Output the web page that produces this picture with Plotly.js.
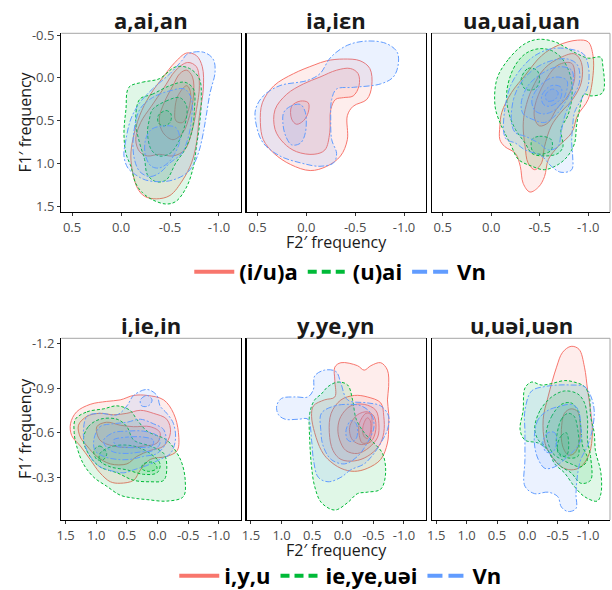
<!DOCTYPE html>
<html>
<head>
<meta charset="utf-8">
<script src="https://cdn.plot.ly/plotly-3.0.1.min.js"></script>
<style>html,body{margin:0;padding:0;background:#fff;}#chart{width:612px;height:590px;}</style>
</head>
<body>
<div id="chart"></div>
<script>
// ---------------- DATA (density contour levels, outer -> inner, [F2', F1'] pairs) ----------------
const panelTitles = ["a,ai,an", "ia,iεn", "ua,uai,uan", "i,ie,in", "y,ye,yn", "u,uəi,uən"];
const groupsTop = ["(i/u)a", "(u)ai", "Vn"];
const groupsBottom = ["i,y,u", "ie,ye,uəi", "Vn"];
const topXTicks = [0.5, 0.0, -0.5, -1.0];
const topXLabels = ["0.5", "0.0", "-0.5", "-1.0"];
const topYTicks = [-0.5, 0.0, 0.5, 1.0, 1.5];
const topYLabels = ["-0.5", "0.0", "0.5", "1.0", "1.5"];
const botXTicks = [1.5, 1.0, 0.5, 0.0, -0.5, -1.0];
const botXLabels = ["1.5", "1.0", "0.5", "0.0", "-0.5", "-1.0"];
const botYTicks = [-1.2, -0.9, -0.6, -0.3];
const botYLabels = ["-1.2", "-0.9", "-0.6", "-0.3"];

// Panel 1: a,ai,an
const p1_red = [
 [[-0.67,-0.29],[-0.77,-0.26],[-0.83,-0.13],[-0.84,0.13],[-0.80,0.44],[-0.77,0.76],[-0.72,0.99],[-0.63,1.19],[-0.50,1.37],[-0.36,1.41],[-0.24,1.38],[-0.17,1.29],[-0.12,1.11],[-0.10,0.91],[-0.12,0.72],[-0.19,0.44],[-0.29,0.21],[-0.43,-0.01],[-0.55,-0.18]],
 [[-0.68,-0.18],[-0.77,-0.13],[-0.80,0.09],[-0.77,0.37],[-0.72,0.64],[-0.65,0.84],[-0.53,0.91],[-0.39,0.89],[-0.27,0.91],[-0.19,0.86],[-0.15,0.72],[-0.20,0.52],[-0.31,0.33],[-0.43,0.13],[-0.56,-0.09]],
 [[-0.67,-0.09],[-0.73,-0.01],[-0.74,0.21],[-0.70,0.44],[-0.63,0.64],[-0.53,0.72],[-0.43,0.64],[-0.39,0.48],[-0.44,0.29],[-0.53,0.09],[-0.60,-0.05]],
 [[-0.67,0.09],[-0.71,0.17],[-0.69,0.37],[-0.63,0.52],[-0.56,0.50],[-0.55,0.37],[-0.58,0.21]]
];
const p1_green = [
 [[-0.08,0.11],[-0.22,0.05],[-0.39,0.01],[-0.56,-0.13],[-0.70,-0.11],[-0.80,0.01],[-0.82,0.25],[-0.80,0.56],[-0.77,0.80],[-0.74,1.03],[-0.67,1.27],[-0.56,1.44],[-0.46,1.47],[-0.32,1.42],[-0.22,1.34],[-0.15,1.23],[-0.10,1.03],[-0.05,0.88],[-0.03,0.64],[-0.05,0.37]],
 [[-0.19,0.25],[-0.32,0.19],[-0.50,0.09],[-0.65,0.05],[-0.74,0.13],[-0.75,0.37],[-0.72,0.64],[-0.65,0.84],[-0.56,0.99],[-0.46,1.19],[-0.36,1.21],[-0.27,1.13],[-0.24,0.95],[-0.19,0.76],[-0.15,0.52]],
 [[-0.32,0.37],[-0.46,0.27],[-0.60,0.23],[-0.67,0.33],[-0.65,0.56],[-0.58,0.76],[-0.50,0.88],[-0.39,0.91],[-0.31,0.84],[-0.27,0.64],[-0.29,0.48]],
 [[-0.38,0.44],[-0.46,0.38],[-0.51,0.42],[-0.50,0.52],[-0.43,0.56],[-0.38,0.52]]
];
const p1_blue = [
 [[-0.68,-0.28],[-0.84,-0.30],[-0.94,-0.22],[-0.96,-0.07],[-0.91,0.17],[-0.87,0.44],[-0.84,0.64],[-0.80,0.84],[-0.75,0.99],[-0.67,1.11],[-0.53,1.19],[-0.39,1.21],[-0.25,1.19],[-0.15,1.13],[-0.07,1.05],[-0.03,0.91],[-0.05,0.72],[-0.10,0.48],[-0.19,0.29],[-0.32,0.13],[-0.50,-0.05],[-0.62,-0.20]],
 [[-0.19,0.37],[-0.32,0.23],[-0.50,0.15],[-0.65,0.13],[-0.72,0.25],[-0.72,0.48],[-0.68,0.72],[-0.62,0.88],[-0.50,0.99],[-0.39,1.11],[-0.29,1.15],[-0.19,1.09],[-0.13,0.91],[-0.13,0.64]],
 [[-0.31,0.60],[-0.43,0.56],[-0.56,0.58],[-0.60,0.72],[-0.55,0.88],[-0.48,0.99],[-0.39,1.05],[-0.31,1.03],[-0.25,0.91],[-0.25,0.72]]
];

// Panel 2: ia,iεn
const p2_red = [
 [[0.45,0.29],[0.33,0.09],[0.13,-0.05],[-0.08,-0.15],[-0.21,-0.20],[-0.38,-0.22],[-0.55,-0.20],[-0.65,-0.11],[-0.67,0.09],[-0.62,0.25],[-0.48,0.33],[-0.42,0.44],[-0.42,0.72],[-0.35,0.91],[-0.21,1.03],[-0.04,1.08],[0.16,1.01],[0.33,0.88],[0.44,0.72],[0.47,0.52]],
 [[0.32,0.37],[0.20,0.19],[0.03,0.07],[-0.14,-0.01],[-0.31,-0.09],[-0.45,-0.11],[-0.53,-0.05],[-0.54,0.09],[-0.48,0.21],[-0.38,0.23],[-0.30,0.25],[-0.25,0.37],[-0.24,0.64],[-0.19,0.84],[-0.08,0.89],[0.10,0.86],[0.23,0.76],[0.32,0.60]],
 [[0.15,0.33],[0.06,0.27],[-0.02,0.29],[-0.02,0.40],[0.03,0.50],[0.10,0.54],[0.15,0.48]]
];
const p2_green = [];
const p2_blue = [
 [[0.52,0.37],[0.44,0.21],[0.27,0.09],[-0.01,0.03],[-0.14,-0.05],[-0.25,-0.24],[-0.42,-0.38],[-0.62,-0.43],[-0.82,-0.40],[-0.93,-0.30],[-0.94,-0.15],[-0.89,-0.01],[-0.76,0.07],[-0.48,0.11],[-0.31,0.13],[-0.26,0.25],[-0.25,0.48],[-0.26,0.72],[-0.31,0.88],[-0.28,0.99],[-0.14,1.03],[0.06,0.99],[0.27,0.91],[0.44,0.76],[0.51,0.56]],
 [[0.23,0.40],[0.16,0.33],[0.06,0.31],[0.01,0.40],[0.01,0.64],[0.06,0.76],[0.15,0.78],[0.21,0.68],[0.24,0.52]]
];

// Panel 3: ua,uai,uan
const p3_red = [
 [[-0.09,0.56],[-0.11,0.40],[-0.21,0.17],[-0.35,-0.03],[-0.52,-0.26],[-0.69,-0.38],[-0.89,-0.44],[-1.00,-0.42],[-1.05,-0.26],[-1.05,-0.03],[-1.00,0.25],[-0.89,0.44],[-0.83,0.64],[-0.69,0.80],[-0.59,0.95],[-0.55,1.15],[-0.49,1.27],[-0.40,1.33],[-0.33,1.23],[-0.30,1.03],[-0.25,0.88],[-0.14,0.80],[-0.09,0.72]],
 [[-0.35,0.37],[-0.42,0.13],[-0.55,-0.11],[-0.72,-0.24],[-0.86,-0.28],[-0.93,-0.18],[-0.93,0.05],[-0.84,0.25],[-0.72,0.40],[-0.62,0.56],[-0.55,0.80],[-0.52,0.99],[-0.45,1.07],[-0.38,0.99],[-0.35,0.80],[-0.33,0.56]],
 [[-0.45,0.33],[-0.55,0.05],[-0.69,-0.15],[-0.83,-0.17],[-0.86,0.01],[-0.79,0.21],[-0.67,0.37],[-0.59,0.52],[-0.50,0.56],[-0.45,0.48]]
];
const p3_green = [
 [[-0.06,0.01],[-0.18,-0.22],[-0.35,-0.40],[-0.49,-0.45],[-0.66,-0.42],[-0.76,-0.36],[-0.89,-0.28],[-1.00,-0.23],[-1.13,-0.24],[-1.15,-0.15],[-1.15,0.17],[-1.03,0.21],[-0.96,0.19],[-0.91,0.37],[-0.88,0.56],[-0.86,0.76],[-0.79,0.91],[-0.69,1.01],[-0.55,1.07],[-0.42,1.03],[-0.28,0.95],[-0.21,0.80],[-0.14,0.64],[-0.09,0.52],[-0.04,0.33]],
 [[-0.16,0.17],[-0.23,-0.11],[-0.35,-0.28],[-0.49,-0.34],[-0.62,-0.32],[-0.72,-0.24],[-0.79,-0.11],[-0.83,0.05],[-0.83,0.25],[-0.79,0.44],[-0.72,0.60],[-0.74,0.80],[-0.69,0.88],[-0.55,0.91],[-0.42,0.88],[-0.35,0.76],[-0.25,0.60],[-0.18,0.40]],
 [[-0.31,0.01],[-0.38,-0.11],[-0.47,-0.09],[-0.50,0.03],[-0.45,0.13],[-0.35,0.13]],
 [[-0.42,0.72],[-0.50,0.68],[-0.62,0.72],[-0.62,0.84],[-0.52,0.89],[-0.43,0.86]]
];
const p3_blue = [
 [[-0.13,0.64],[-0.14,0.37],[-0.20,0.09],[-0.31,-0.11],[-0.45,-0.26],[-0.62,-0.34],[-0.79,-0.34],[-0.95,-0.28],[-1.00,-0.15],[-1.00,0.09],[-0.93,0.25],[-0.86,0.40],[-0.84,0.56],[-0.83,0.76],[-0.84,0.91],[-0.83,1.07],[-0.72,1.10],[-0.62,1.03],[-0.52,0.91],[-0.35,0.84],[-0.25,0.76],[-0.16,0.72]],
 [[-0.21,0.52],[-0.23,0.25],[-0.31,0.05],[-0.45,-0.11],[-0.62,-0.20],[-0.79,-0.22],[-0.89,-0.15],[-0.91,0.05],[-0.83,0.25],[-0.76,0.44],[-0.72,0.64],[-0.69,0.80],[-0.59,0.84],[-0.49,0.76],[-0.35,0.68],[-0.25,0.64]],
 [[-0.31,0.29],[-0.38,0.09],[-0.52,-0.05],[-0.69,-0.13],[-0.83,-0.09],[-0.84,0.09],[-0.76,0.29],[-0.66,0.44],[-0.55,0.52],[-0.42,0.48],[-0.33,0.42]],
 [[-0.42,0.25],[-0.52,0.07],[-0.66,-0.01],[-0.78,0.03],[-0.76,0.21],[-0.66,0.37],[-0.54,0.42],[-0.45,0.38]],
 [[-0.52,0.21],[-0.62,0.09],[-0.72,0.11],[-0.71,0.25],[-0.60,0.33],[-0.54,0.31]],
 [[-0.56,0.20],[-0.63,0.13],[-0.69,0.17],[-0.66,0.25],[-0.58,0.27]]
];

// Panel 4: i,ie,in
const p4_red = [
 [[1.42,-0.66],[1.32,-0.74],[1.10,-0.79],[0.83,-0.81],[0.61,-0.82],[0.39,-0.85],[0.17,-0.85],[-0.10,-0.82],[-0.26,-0.73],[-0.34,-0.60],[-0.32,-0.48],[-0.15,-0.44],[0.12,-0.42],[0.28,-0.35],[0.39,-0.28],[0.61,-0.26],[0.77,-0.27],[0.94,-0.33],[1.10,-0.42],[1.26,-0.51],[1.40,-0.58]],
 [[1.29,-0.65],[1.15,-0.71],[0.94,-0.73],[0.72,-0.72],[0.50,-0.73],[0.28,-0.75],[0.07,-0.73],[-0.15,-0.69],[-0.21,-0.60],[-0.10,-0.51],[0.12,-0.48],[0.34,-0.44],[0.50,-0.39],[0.77,-0.39],[0.99,-0.44],[1.15,-0.51],[1.26,-0.57]],
 [[0.99,-0.64],[0.83,-0.67],[0.61,-0.65],[0.39,-0.64],[0.12,-0.64],[-0.04,-0.60],[0.01,-0.53],[0.23,-0.51],[0.45,-0.50],[0.72,-0.51],[0.94,-0.55]]
];
const p4_green = [
 [[1.34,-0.69],[1.15,-0.74],[0.88,-0.76],[0.66,-0.78],[0.45,-0.75],[0.34,-0.69],[0.17,-0.61],[-0.15,-0.55],[-0.32,-0.46],[-0.40,-0.39],[-0.45,-0.28],[-0.42,-0.17],[-0.15,-0.14],[0.17,-0.15],[0.39,-0.16],[0.61,-0.18],[0.83,-0.24],[1.04,-0.30],[1.21,-0.39],[1.32,-0.51],[1.36,-0.60]],
 [[1.21,-0.55],[1.13,-0.64],[0.94,-0.69],[0.66,-0.69],[0.50,-0.64],[0.39,-0.55],[0.12,-0.51],[-0.10,-0.46],[-0.15,-0.37],[-0.10,-0.28],[0.12,-0.27],[0.39,-0.28],[0.66,-0.33],[0.94,-0.37],[1.10,-0.44]],
 [[0.94,-0.46],[0.72,-0.51],[0.39,-0.51],[0.12,-0.46],[-0.04,-0.39],[0.01,-0.33],[0.23,-0.32],[0.50,-0.35],[0.77,-0.37],[0.94,-0.41]],
 [[1.04,-0.48],[0.94,-0.51],[0.83,-0.46],[0.88,-0.42],[0.99,-0.42]],
 [[0.23,-0.39],[0.07,-0.40],[0.01,-0.36],[0.15,-0.34],[0.26,-0.36]]
];
const p4_blue = [
 [[1.21,-0.60],[1.15,-0.71],[0.94,-0.73],[0.66,-0.72],[0.50,-0.78],[0.39,-0.85],[0.17,-0.89],[0.01,-0.85],[-0.04,-0.78],[-0.15,-0.73],[-0.26,-0.66],[-0.29,-0.55],[-0.21,-0.46],[-0.04,-0.42],[0.17,-0.38],[0.39,-0.35],[0.55,-0.33],[0.72,-0.34],[0.94,-0.37],[1.10,-0.44],[1.18,-0.51]],
 [[1.04,-0.55],[0.94,-0.64],[0.72,-0.66],[0.50,-0.67],[0.28,-0.69],[0.07,-0.66],[-0.10,-0.62],[-0.13,-0.53],[0.01,-0.46],[0.23,-0.44],[0.45,-0.42],[0.66,-0.42],[0.88,-0.44],[1.02,-0.48]],
 [[0.88,-0.55],[0.72,-0.60],[0.50,-0.61],[0.23,-0.61],[0.01,-0.58],[-0.04,-0.53],[0.07,-0.48],[0.28,-0.47],[0.50,-0.46],[0.72,-0.47],[0.85,-0.51]],
 [[0.72,-0.55],[0.50,-0.57],[0.23,-0.57],[0.07,-0.55],[0.09,-0.51],[0.28,-0.50],[0.50,-0.50],[0.66,-0.51]],
 [[0.28,-0.82],[0.17,-0.85],[0.09,-0.82],[0.15,-0.78],[0.26,-0.78]]
];

// Panel 5: y,ye,yn
const p5_red = [
 [[0.13,-1.04],[0.03,-1.07],[-0.24,-1.05],[-0.35,-1.02],[-0.46,-1.05],[-0.62,-1.07],[-0.73,-1.02],[-0.75,-0.91],[-0.73,-0.82],[-0.75,-0.73],[-0.75,-0.64],[-0.73,-0.53],[-0.62,-0.42],[-0.40,-0.36],[-0.19,-0.34],[0.03,-0.36],[0.24,-0.42],[0.35,-0.48],[0.46,-0.60],[0.51,-0.71],[0.48,-0.78],[0.30,-0.82],[0.13,-0.84],[0.13,-0.95]],
 [[0.19,-0.73],[0.03,-0.82],[-0.19,-0.85],[-0.40,-0.84],[-0.62,-0.80],[-0.67,-0.71],[-0.67,-0.60],[-0.59,-0.51],[-0.40,-0.44],[-0.19,-0.41],[0.03,-0.42],[0.16,-0.48],[0.22,-0.60]],
 [[0.03,-0.71],[-0.13,-0.78],[-0.35,-0.79],[-0.54,-0.75],[-0.59,-0.66],[-0.57,-0.57],[-0.43,-0.50],[-0.24,-0.46],[-0.05,-0.48],[0.05,-0.55],[0.08,-0.63]],
 [[-0.13,-0.66],[-0.24,-0.72],[-0.40,-0.74],[-0.51,-0.71],[-0.54,-0.62],[-0.46,-0.54],[-0.30,-0.52],[-0.16,-0.55],[-0.11,-0.61]],
 [[-0.27,-0.66],[-0.38,-0.73],[-0.46,-0.72],[-0.47,-0.62],[-0.43,-0.54],[-0.32,-0.53],[-0.27,-0.58]],
 [[-0.33,-0.64],[-0.40,-0.70],[-0.45,-0.68],[-0.45,-0.60],[-0.40,-0.56],[-0.34,-0.58]]
];
const p5_green = [
 [[0.46,-0.82],[0.35,-0.86],[0.24,-0.91],[0.08,-0.94],[-0.08,-0.92],[-0.16,-0.82],[-0.22,-0.69],[-0.35,-0.60],[-0.51,-0.53],[-0.65,-0.46],[-0.70,-0.33],[-0.62,-0.22],[-0.40,-0.20],[-0.24,-0.19],[-0.08,-0.13],[0.13,-0.08],[0.35,-0.13],[0.46,-0.24],[0.51,-0.37],[0.54,-0.55],[0.54,-0.73]]
];
const p5_blue = [
 [[1.08,-0.78],[1.00,-0.83],[0.78,-0.84],[0.57,-0.84],[0.48,-0.89],[0.46,-0.98],[0.30,-1.02],[0.11,-1.01],[0.03,-0.93],[-0.08,-0.82],[-0.40,-0.80],[-0.62,-0.78],[-0.75,-0.71],[-0.73,-0.62],[-0.62,-0.53],[-0.51,-0.46],[-0.35,-0.39],[-0.13,-0.35],[0.03,-0.30],[0.24,-0.27],[0.40,-0.30],[0.48,-0.42],[0.51,-0.55],[0.57,-0.69],[0.73,-0.69],[0.94,-0.69],[1.05,-0.72]],
 [[0.35,-0.73],[0.13,-0.78],[-0.13,-0.79],[-0.30,-0.78],[-0.46,-0.73],[-0.51,-0.64],[-0.40,-0.53],[-0.24,-0.44],[-0.03,-0.39],[0.19,-0.42],[0.32,-0.51],[0.36,-0.62]],
 [[-0.07,-0.64],[-0.13,-0.68],[-0.22,-0.66],[-0.23,-0.57],[-0.16,-0.54],[-0.08,-0.55],[-0.05,-0.60]]
];

// Panel 6: u,uəi,uən
const p6_red = [
 [[-0.26,-0.69],[-0.34,-0.84],[-0.48,-1.04],[-0.58,-1.14],[-0.72,-1.18],[-0.85,-1.16],[-0.94,-1.04],[-0.99,-0.89],[-1.04,-0.75],[-1.07,-0.60],[-1.02,-0.46],[-0.88,-0.37],[-0.72,-0.35],[-0.56,-0.37],[-0.40,-0.44],[-0.29,-0.53]],
 [[-0.56,-0.62],[-0.61,-0.73],[-0.72,-0.76],[-0.83,-0.74],[-0.87,-0.64],[-0.85,-0.53],[-0.77,-0.46],[-0.67,-0.45],[-0.58,-0.51]]
];
const p6_green = [
 [[0.12,-0.62],[0.07,-0.75],[0.04,-0.90],[-0.07,-0.94],[-0.23,-0.92],[-0.40,-0.93],[-0.61,-0.95],[-0.77,-0.94],[-0.94,-0.91],[-1.02,-0.84],[-1.04,-0.71],[-1.10,-0.60],[-1.12,-0.48],[-1.21,-0.33],[-1.21,-0.19],[-1.15,-0.14],[-0.94,-0.17],[-0.77,-0.24],[-0.61,-0.33],[-0.45,-0.39],[-0.34,-0.48],[-0.18,-0.53],[0.04,-0.55]],
 [[-0.12,-0.63],[-0.21,-0.75],[-0.40,-0.84],[-0.61,-0.88],[-0.83,-0.86],[-0.94,-0.80],[-0.99,-0.69],[-0.99,-0.55],[-1.04,-0.44],[-1.04,-0.28],[-0.88,-0.26],[-0.72,-0.33],[-0.56,-0.37],[-0.40,-0.44],[-0.29,-0.51],[-0.18,-0.55]],
 [[-0.31,-0.60],[-0.40,-0.71],[-0.56,-0.79],[-0.72,-0.80],[-0.83,-0.75],[-0.88,-0.64],[-0.91,-0.51],[-0.99,-0.42],[-0.88,-0.37],[-0.72,-0.39],[-0.56,-0.42],[-0.42,-0.46],[-0.34,-0.53]],
 [[-0.48,-0.57],[-0.56,-0.69],[-0.67,-0.73],[-0.77,-0.71],[-0.83,-0.62],[-0.85,-0.51],[-0.83,-0.44],[-0.67,-0.43],[-0.53,-0.46],[-0.48,-0.51]],
 [[-0.50,-0.53],[-0.56,-0.58],[-0.64,-0.60],[-0.68,-0.53],[-0.65,-0.45],[-0.56,-0.44],[-0.50,-0.47]]
];
const p6_blue = [
 [[0.04,-0.75],[-0.07,-0.88],[-0.29,-0.91],[-0.50,-0.92],[-0.72,-0.92],[-0.94,-0.91],[-1.04,-0.85],[-1.10,-0.75],[-1.07,-0.62],[-0.99,-0.51],[-0.88,-0.42],[-0.83,-0.33],[-0.80,-0.19],[-0.80,-0.09],[-0.67,-0.07],[-0.56,-0.10],[-0.50,-0.17],[-0.34,-0.20],[-0.12,-0.19],[0.04,-0.24],[0.04,-0.42],[0.04,-0.60]],
 [[-0.12,-0.60],[-0.18,-0.69],[-0.34,-0.75],[-0.56,-0.78],[-0.72,-0.79],[-0.83,-0.76],[-0.88,-0.64],[-0.88,-0.55],[-0.77,-0.48],[-0.61,-0.42],[-0.45,-0.37],[-0.29,-0.36],[-0.18,-0.42],[-0.12,-0.51]],
 [[-0.26,-0.55],[-0.34,-0.60],[-0.45,-0.60],[-0.48,-0.53],[-0.42,-0.47],[-0.31,-0.47],[-0.26,-0.51]]
];

// ---------------- STYLE ----------------
const FONT = '"Open Sans", "Noto Sans", "DejaVu Sans", sans-serif';
const COLORS = ["#F8766D", "#00BA38", "#619CFF"];
const FILLS = ["rgba(248,118,109,0.13)", "rgba(0,186,56,0.12)", "rgba(97,156,255,0.13)"];
const DASH = ["solid", "3px,2px", "2px,2px,6px,2px"];
const LEG_DASH = ["solid", "9px,5px", "15px,6px"];

const panels = [
  [p1_red, p1_green, p1_blue],
  [p2_red, p2_green, p2_blue],
  [p3_red, p3_green, p3_blue],
  [p4_red, p4_green, p4_blue],
  [p5_red, p5_green, p5_blue],
  [p6_red, p6_green, p6_blue]
];

const traces = [];
panels.forEach((series, pi) => {
  const xa = pi === 0 ? 'x' : 'x' + (pi + 1);
  const ya = pi === 0 ? 'y' : 'y' + (pi + 1);
  series.forEach((polys, si) => {
    polys.forEach(poly => {
      const xs = poly.map(p => p[0]); xs.push(poly[0][0]);
      const ys = poly.map(p => p[1]); ys.push(poly[0][1]);
      traces.push({
        type: 'scatter', mode: 'lines', x: xs, y: ys, xaxis: xa, yaxis: ya,
        fill: 'toself', fillcolor: FILLS[si],
        line: {color: COLORS[si], width: 1, dash: DASH[si], shape: 'spline', smoothing: 1},
        showlegend: false, hoverinfo: 'skip'
      });
    });
  });
});
// legend entries
groupsTop.forEach((g, i) => traces.push({type:'scatter', mode:'lines', x:[null], y:[null], xaxis:'x', yaxis:'y',
  name: '<b>' + g + '</b>', legend: 'legend', showlegend: true, line:{color: COLORS[i], width: 4, dash: LEG_DASH[i]}}));
groupsBottom.forEach((g, i) => traces.push({type:'scatter', mode:'lines', x:[null], y:[null], xaxis:'x4', yaxis:'y4',
  name: '<b>' + g + '</b>', legend: 'legend2', showlegend: true, line:{color: COLORS[i], width: 4, dash: LEG_DASH[i]}}));

const W = 612, H = 590;
const xDom = [[61.3/W, 241/W], [246.7/W, 426/W], [432/W, 610/W]];
const yDomTop = [1 - 212/H, 1 - 33.3/H];
const yDomBot = [1 - 520/H, 1 - 338.3/H];

function xaxisDef(col, top) {
  return {
    domain: xDom[col], range: top ? [0.61, -1.225] : [1.57, -1.36],
    tickmode: 'array', tickvals: top ? topXTicks : botXTicks, ticktext: top ? topXLabels : botXLabels,
    showgrid: false, zeroline: false, showline: true, linecolor: '#000', linewidth: 1.3,
    ticks: 'outside', ticklen: 3, tickcolor: '#333', tickwidth: 1,
    tickfont: {family: FONT, size: 13, color: '#4d4d4d'}, fixedrange: true, automargin: false
  };
}
function yaxisDef(col, top) {
  return {
    domain: top ? yDomTop : yDomBot, range: top ? [1.563, -0.52] : [-0.013, -1.234],
    tickmode: 'array', tickvals: top ? topYTicks : botYTicks, ticktext: top ? topYLabels : botYLabels,
    showticklabels: col === 0, ticks: col === 0 ? 'outside' : '',
    ticklen: 3, tickcolor: '#333', tickwidth: 1,
    showgrid: false, zeroline: false, showline: true, linecolor: '#000', linewidth: 1.3,
    mirror: col < 2,
    tickfont: {family: FONT, size: 13, color: '#4d4d4d'}, fixedrange: true, automargin: false
  };
}

const layout = {
  width: W, height: H, margin: {l: 0, r: 0, t: 0, b: 0, autoexpand: false},
  paper_bgcolor: '#fff', plot_bgcolor: '#fff',
  font: {family: FONT},
  showlegend: true,
  legend: {orientation: 'h', x: 0.556, xanchor: 'center', y: 1 - 272/H, yanchor: 'middle',
    font: {family: FONT, size: 22, color: '#000'}, itemwidth: 40, bgcolor: 'rgba(0,0,0,0)'},
  legend2: {orientation: 'h', x: 0.556, xanchor: 'center', y: 1 - 576/H, yanchor: 'middle',
    font: {family: FONT, size: 22, color: '#000'}, itemwidth: 40, bgcolor: 'rgba(0,0,0,0)'},
  annotations: [], shapes: []
};
for (let i = 0; i < 6; i++) {
  const top = i < 3, col = i % 3;
  const xk = i === 0 ? 'xaxis' : 'xaxis' + (i + 1);
  const yk = i === 0 ? 'yaxis' : 'yaxis' + (i + 1);
  layout[xk] = xaxisDef(col, top);
  layout[yk] = yaxisDef(col, top);
  layout[xk].anchor = i === 0 ? 'y' : 'y' + (i + 1);
  layout[yk].anchor = i === 0 ? 'x' : 'x' + (i + 1);
  const yd = top ? yDomTop : yDomBot;
  layout.shapes.push({type: 'line', xref: 'paper', yref: 'paper', x0: xDom[col][0], x1: xDom[col][1], y0: yd[1], y1: yd[1],
    line: {color: '#a6a6a6', width: 1}});
  if (col === 2) layout.shapes.push({type: 'line', xref: 'paper', yref: 'paper', x0: xDom[col][1], x1: xDom[col][1], y0: yd[0], y1: yd[1],
    line: {color: '#a6a6a6', width: 1}});
  layout.annotations.push({text: '<b>' + panelTitles[i] + '</b>', xref: 'paper', yref: 'paper',
    x: (xDom[col][0] + xDom[col][1]) / 2, y: top ? 1 - 20/H : 1 - 325/H, xanchor: 'center', yanchor: 'middle',
    showarrow: false, font: {family: FONT, size: 22, color: '#1a1a1a'}});
}
['F1′ frequency', 'F1′ frequency'].forEach((t, r) => layout.annotations.push({text: t, xref: 'paper', yref: 'paper',
  x: 25/W, y: r === 0 ? 1 - 122.6/H : 1 - 429/H, textangle: -90, xanchor: 'center', yanchor: 'middle',
  showarrow: false, font: {family: FONT, size: 16, color: '#1a1a1a'}}));
['F2′ frequency', 'F2′ frequency'].forEach((t, r) => layout.annotations.push({text: t, xref: 'paper', yref: 'paper',
  x: (xDom[1][0] + xDom[1][1]) / 2, y: r === 0 ? 1 - 242/H : 1 - 550/H, xanchor: 'center', yanchor: 'middle',
  showarrow: false, borderpad: 0, font: {family: FONT, size: 16, color: '#1a1a1a'}}));

Plotly.newPlot('chart', traces, layout, {displayModeBar: false, staticPlot: true});
</script>
</body>
</html>
